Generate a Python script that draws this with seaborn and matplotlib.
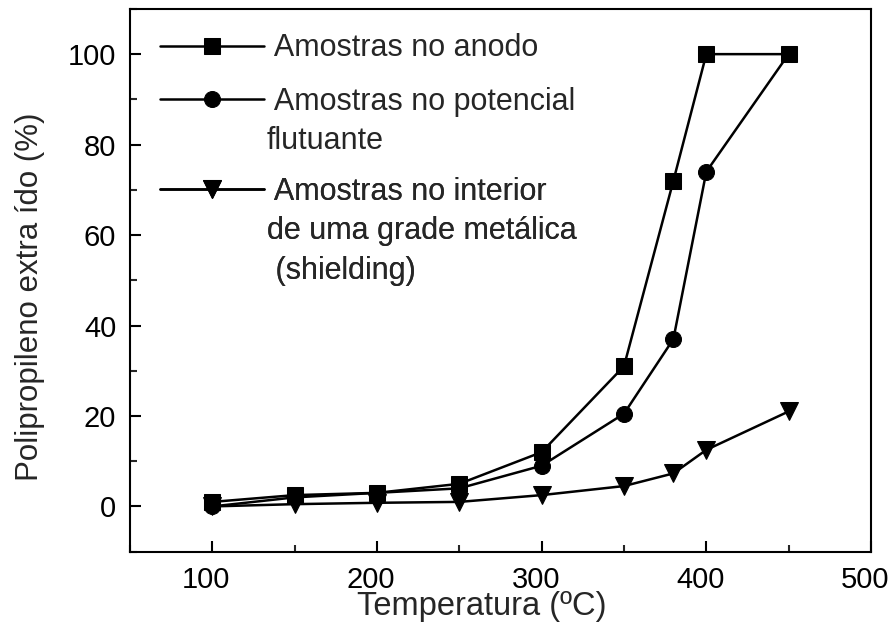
import matplotlib
matplotlib.use("Agg")
import matplotlib.pyplot as plt
import matplotlib.transforms as mtransforms
import seaborn as sns
import pandas as pd
from matplotlib.ticker import MultipleLocator

# data
temperatura = [100, 150, 200, 250, 300, 350, 380, 400, 450]
anodo = [1, 2.5, 3, 5, 12, 31, 72, 100, 100]
flutuante = [0, 2, 3, 4, 9, 20.5, 37, 74, 100]
shielding = [0, 0.5, 0.8, 1, 2.5, 4.5, 7.3, 12.5, 21]

# legend text, one list per entry (first line goes next to the symbol)
labels = [
    [" Amostras no anodo"],
    [" Amostras no potencial", "flutuante"],
    [" Amostras no interior", "de uma grade metálica", " (shielding)"],
]
markers = ["s", "o", "v"]

sns.set_style("ticks")
plt.rcParams["font.family"] = ["Liberation Sans", "DejaVu Sans"]

fig = plt.figure(figsize=(8.91, 6.37), dpi=100)
ax = fig.add_axes([0.146, 0.134, 0.8315, 0.852])

handles = []
for serie, mk in zip([anodo, flutuante, shielding], markers):
    df = pd.DataFrame({"T": temperatura, "y": serie})
    sns.lineplot(data=df, x="T", y="y", ax=ax, color="black", linewidth=1.8,
                 marker=mk, markersize=11.5 if mk != "v" else 13.5,
                 markeredgecolor="black")
    handles.append(ax.lines[-1])

ax.set_xlim(50, 500)
ax.set_ylim(-10, 110)
ax.xaxis.set_major_locator(MultipleLocator(100))
ax.xaxis.set_minor_locator(MultipleLocator(50))
ax.yaxis.set_major_locator(MultipleLocator(20))
ax.yaxis.set_minor_locator(MultipleLocator(10))
ax.tick_params(which="major", direction="in", length=8, width=1.5,
               labelsize=21, colors="black", pad=10)
ax.tick_params(which="minor", direction="in", length=5, width=1.5)
ax.tick_params(top=False, right=False)
for s in ax.spines.values():
    s.set_linewidth(1.5)
    s.set_color("black")

# x tick labels sit a little left of their ticks in the reference
shift = mtransforms.ScaledTranslation(-6 / 100, 0, fig.dpi_scale_trans)
for lbl in ax.get_xticklabels():
    lbl.set_transform(lbl.get_transform() + shift)

ax.set_xlabel("Temperatura (ºC)", fontsize=23.5)
ax.set_ylabel("Polipropileno extra ído (%)", fontsize=22.5)
ax.xaxis.set_label_coords(0.474, -0.072)
ax.yaxis.set_label_coords(-0.115, 0.47)

# one legend per entry so the symbol sits beside the first text line
blank = plt.Line2D([], [], color="none")
anchors_y = [0.955, 0.857, 0.691]
for h, lab, ay in zip(handles, labels, anchors_y):
    hs = [h] + [blank] * (len(lab) - 1)
    leg = ax.legend(hs, lab, loc="upper left", bbox_to_anchor=(0.04, ay),
                    frameon=False, fontsize=22, handlelength=3.4,
                    handletextpad=0.1, numpoints=1, labelspacing=0.32,
                    borderaxespad=0, borderpad=0)
    ax.add_artist(leg)

fig.savefig("out.png", dpi=100)
